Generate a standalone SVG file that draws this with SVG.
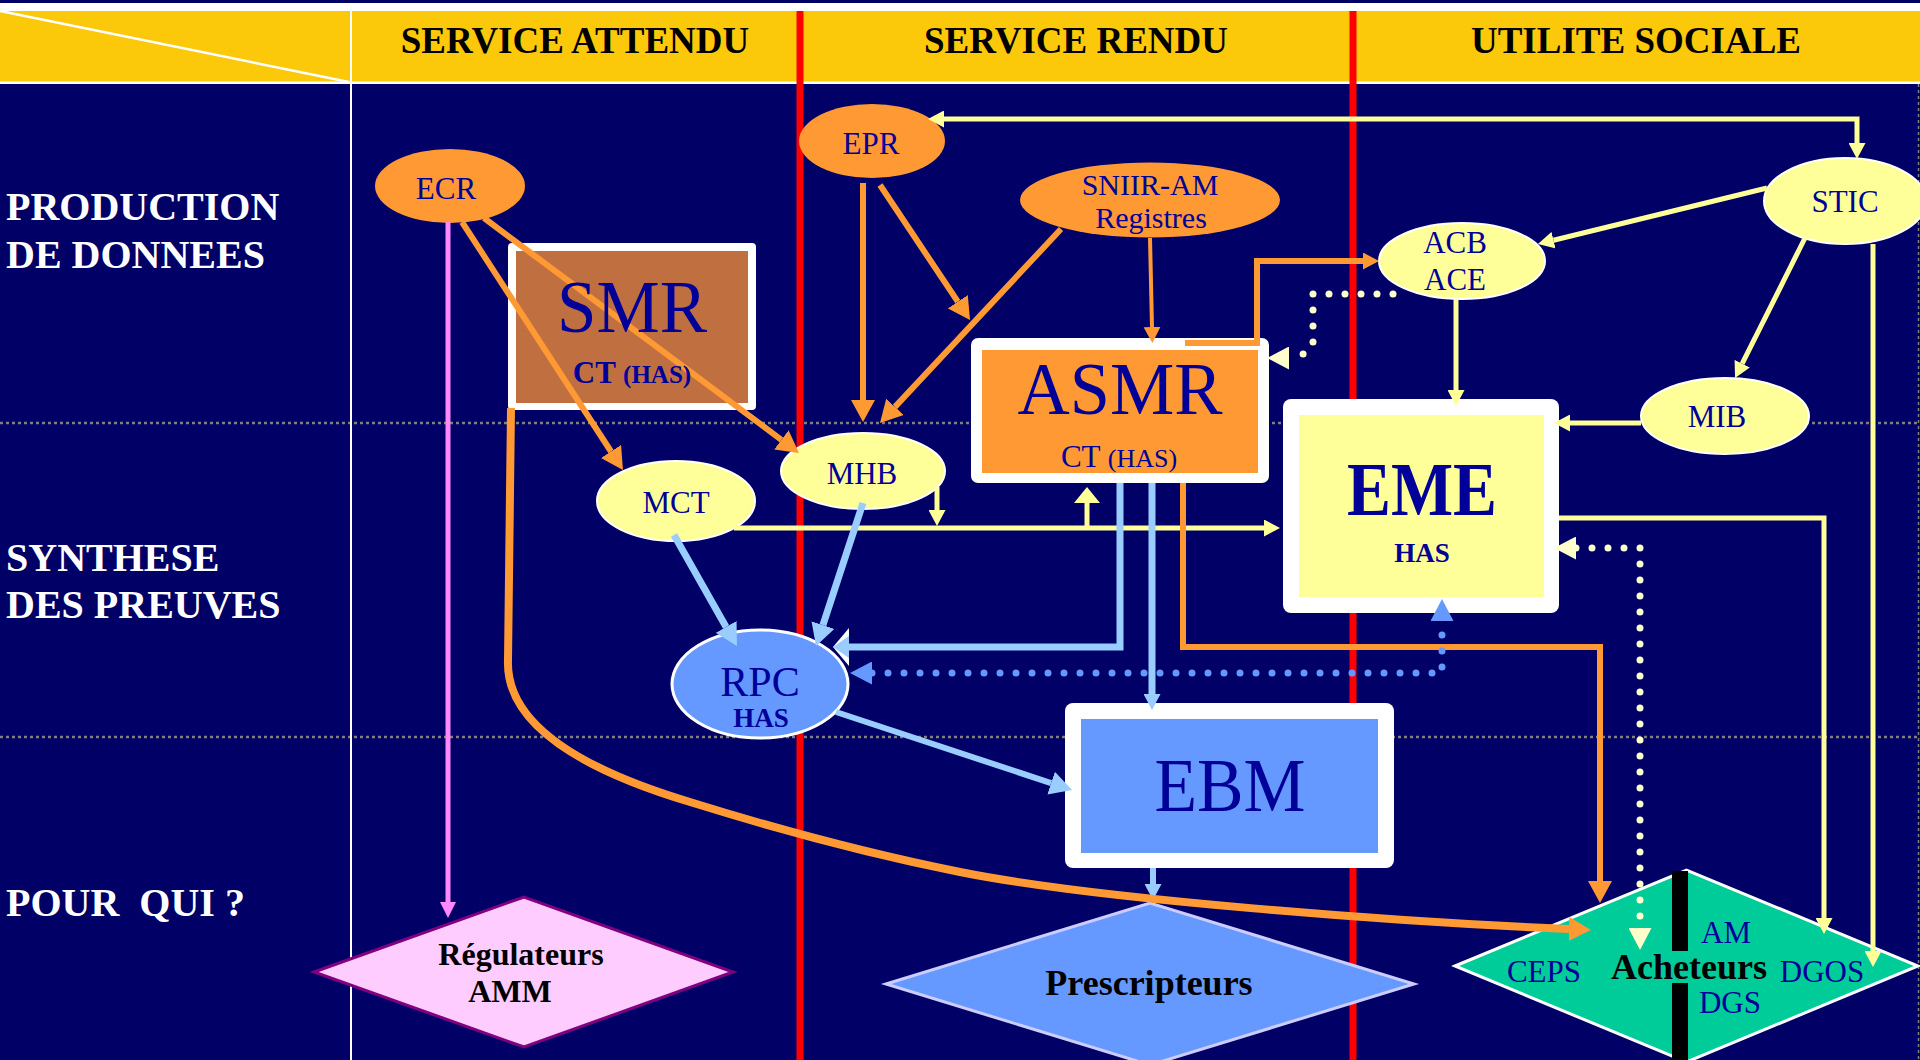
<svg xmlns="http://www.w3.org/2000/svg" width="1920" height="1060" viewBox="0 0 1920 1060">
  <defs>
    <style>
      .hdr{font-family:"Liberation Serif","Times New Roman",serif;font-weight:bold;font-size:37px;fill:#000;text-anchor:middle}
      .row{font-family:"Liberation Serif","Times New Roman",serif;font-weight:bold;font-size:40px;fill:#fff;white-space:pre}
      .lbl{font-family:"Liberation Serif","Times New Roman",serif;font-size:31px;fill:#000099;text-anchor:middle}
      .blk{fill:#000;font-weight:bold}
      .b{font-weight:bold}
      .grid{stroke:#808080;stroke-width:2.5;stroke-dasharray:3 3;fill:none}
      .red{stroke:#FF0000;stroke-width:7}
      .or{stroke:#FF9933;fill:none;stroke-width:6}
      .ye{stroke:#FFFF99;fill:none;stroke-width:5}
      .lb{stroke:#99CCFF;fill:none;stroke-width:7}
      .pk{stroke:#FF88FF;fill:none;stroke-width:5}
      .dot{fill:none;stroke-width:7;stroke-linecap:round;stroke-dasharray:0 16}
      .ell-o{fill:#FF9933}
      .ell-y{fill:#FFFF99;stroke:#FFFFFF;stroke-width:2}
      .frame{fill:#FFFFFF}
    </style>
    <!-- arrowheads: base sits on the path end, tip points forward -->
    <marker id="a-or" markerUnits="userSpaceOnUse" markerWidth="22" markerHeight="24" refX="0" refY="12" orient="auto"><path d="M0,0 L22,12 L0,24 z" fill="#FF9933"/></marker>
    <marker id="a-or-s" markerUnits="userSpaceOnUse" markerWidth="16" markerHeight="17" refX="0" refY="8.5" orient="auto"><path d="M0,0 L16,8.5 L0,17 z" fill="#FF9933"/></marker>
    <marker id="a-ye-s" markerUnits="userSpaceOnUse" markerWidth="16" markerHeight="17" refX="0" refY="8.5" orient="auto-start-reverse"><path d="M0,0 L16,8.5 L0,17 z" fill="#FFFF99"/></marker>
    <marker id="a-ye-w" markerUnits="userSpaceOnUse" markerWidth="16" markerHeight="26" refX="0" refY="13" orient="auto"><path d="M0,0 L16,13 L0,26 z" fill="#FFFF99"/></marker>
    <marker id="a-lb" markerUnits="userSpaceOnUse" markerWidth="22" markerHeight="24" refX="0" refY="12" orient="auto"><path d="M0,0 L22,12 L0,24 z" fill="#99CCFF"/></marker>
    <marker id="a-lb-s" markerUnits="userSpaceOnUse" markerWidth="16" markerHeight="17" refX="0" refY="8.5" orient="auto"><path d="M0,0 L16,8.5 L0,17 z" fill="#99CCFF"/></marker>
    <marker id="a-lb-w" markerUnits="userSpaceOnUse" markerWidth="16" markerHeight="38" refX="0" refY="19" orient="auto"><path d="M0,0 L16,19 L0,38 z" fill="#FFFFFF"/><path d="M0,8 L16,19 L0,30 z" fill="#99CCFF"/></marker>
    <marker id="a-bl" markerUnits="userSpaceOnUse" markerWidth="22" markerHeight="23" refX="0" refY="11.5" orient="auto-start-reverse"><path d="M0,0 L22,11.5 L0,23 z" fill="#6699FF"/></marker>
    <marker id="a-py" markerUnits="userSpaceOnUse" markerWidth="22" markerHeight="23" refX="0" refY="11.5" orient="auto-start-reverse"><path d="M0,0 L22,11.5 L0,23 z" fill="#FFFFCC"/></marker>
    <marker id="a-pk" markerUnits="userSpaceOnUse" markerWidth="16" markerHeight="16" refX="0" refY="8" orient="auto"><path d="M0,0 L16,8 L0,16 z" fill="#FF88FF"/></marker>
  </defs>

  <!-- background -->
  <rect x="0" y="0" width="1920" height="1060" fill="#000066"/>

  <!-- column header band -->
  <g id="header">
    <rect x="0" y="3" width="1920" height="8" fill="#FFFFFF"/>
    <rect x="0" y="11" width="1920" height="71" fill="#FCC80A"/>
    <rect x="0" y="81.5" width="1920" height="2.5" fill="#FFFFFF"/>
    <line x1="0" y1="11" x2="349" y2="82" stroke="#FFFFFF" stroke-width="2.5"/>
    <text class="hdr" x="575" y="53">SERVICE ATTENDU</text>
    <text class="hdr" x="1076" y="53">SERVICE RENDU</text>
    <text class="hdr" x="1636" y="53">UTILITE SOCIALE</text>
  </g>

  <!-- table grid -->
  <g id="grid">
    <line class="grid" x1="0" y1="423" x2="1920" y2="423"/>
    <line class="grid" x1="0" y1="737" x2="1920" y2="737"/>
    <line class="grid" x1="1918.5" y1="84" x2="1918.5" y2="1060" style="stroke-width:1.5"/>
    <line x1="351" y1="11" x2="351" y2="1060" stroke="#FFFFFF" stroke-width="2"/>
    <line class="red" x1="800" y1="11" x2="800" y2="1060"/>
    <line class="red" x1="1353" y1="11" x2="1353" y2="1060"/>
  </g>

  <!-- row titles -->
  <g id="rows">
    <text class="row" x="6" y="220">PRODUCTION</text>
    <text class="row" x="6" y="268">DE DONNEES</text>
    <text class="row" x="6" y="571">SYNTHESE</text>
    <text class="row" x="6" y="618">DES PREUVES</text>
    <text class="row" x="6" y="916">POUR  QUI ?</text>
  </g>

  <!-- nodes -->
  <g id="ecr">
    <ellipse class="ell-o" cx="450" cy="186" rx="75" ry="37"/>
    <text class="lbl" x="446" y="199">ECR</text>
  </g>
  <g id="epr">
    <ellipse class="ell-o" cx="872" cy="141" rx="73" ry="37"/>
    <text class="lbl" x="871" y="154">EPR</text>
  </g>
  <g id="sniir">
    <ellipse class="ell-o" cx="1150" cy="200" rx="130" ry="37.5"/>
    <text class="lbl" x="1150" y="195" style="font-size:30px">SNIIR-AM</text>
    <text class="lbl" x="1151" y="228" style="font-size:30px">Registres</text>
  </g>
  <g id="stic">
    <ellipse class="ell-y" cx="1845" cy="201" rx="81" ry="43"/>
    <text class="lbl" x="1845" y="212">STIC</text>
  </g>
  <g id="acb">
    <ellipse class="ell-y" cx="1462" cy="261" rx="83" ry="38"/>
    <text class="lbl" x="1455" y="253">ACB</text>
    <text class="lbl" x="1455" y="290">ACE</text>
  </g>
  <g id="mib">
    <ellipse class="ell-y" cx="1725" cy="416" rx="84" ry="38"/>
    <text class="lbl" x="1717" y="427">MIB</text>
  </g>
  <g id="mhb">
    <ellipse class="ell-y" cx="863" cy="471" rx="82" ry="38"/>
    <text class="lbl" x="862" y="484">MHB</text>
  </g>
  <g id="mct">
    <ellipse class="ell-y" cx="676" cy="501" rx="79" ry="40"/>
    <text class="lbl" x="676" y="513">MCT</text>
  </g>
  <g id="rpc">
    <ellipse cx="760" cy="684" rx="88" ry="54" fill="#6699FF" stroke="#FFFFFF" stroke-width="3"/>
    <text class="lbl" x="760" y="696" style="font-size:42px">RPC</text>
    <text class="lbl b" x="761" y="727" style="font-size:27px">HAS</text>
  </g>
  <g id="smr">
    <rect class="frame" x="508" y="243" width="248" height="167" rx="4"/>
    <rect x="516" y="251" width="232" height="152" fill="#C07040"/>
  </g>
  <g id="asmr">
    <rect class="frame" x="971" y="338" width="298" height="145" rx="7"/>
    <rect x="982" y="350" width="276" height="123" fill="#FF9933"/>
    <text class="lbl" x="1120" y="414" style="font-size:74px" textLength="205" lengthAdjust="spacingAndGlyphs">ASMR</text>
    <text class="lbl" x="1119" y="467"><tspan style="font-size:31px">CT </tspan><tspan style="font-size:26px">(HAS)</tspan></text>
  </g>
  <g id="eme">
    <rect class="frame" x="1283" y="399" width="276" height="214" rx="8"/>
    <rect x="1299" y="415" width="245" height="182" fill="#FFFF99"/>
    <text class="lbl b" x="1422" y="515" style="font-size:76px" textLength="150" lengthAdjust="spacingAndGlyphs">EME</text>
    <text class="lbl b" x="1422" y="562" style="font-size:27px">HAS</text>
  </g>
  <g id="ebm">
    <rect class="frame" x="1065" y="703" width="329" height="165" rx="8"/>
    <rect x="1081" y="719" width="297" height="134" fill="#6699FF"/>
    <text class="lbl" x="1230" y="811" style="font-size:76px" textLength="151" lengthAdjust="spacingAndGlyphs">EBM</text>
  </g>
  <g id="regulateurs">
    <polygon points="314,972 524,897 733,972 524,1047" fill="#FFCCFF" stroke="#800080" stroke-width="3"/>
    <text class="lbl blk" x="521" y="965" style="font-size:32px">Régulateurs</text>
    <text class="lbl blk" x="510" y="1002" style="font-size:32px">AMM</text>
  </g>
  <g id="prescripteurs">
    <polygon points="886,984 1150,903 1414,984 1150,1065" fill="#6699FF" stroke="#CCCCFF" stroke-width="3"/>
    <text class="lbl blk" x="1149" y="995" style="font-size:36px">Prescripteurs</text>
  </g>
  <g id="acheteurs">
    <polygon points="1455,966 1686.5,870 1918,966 1686.5,1062" fill="#00CC99" stroke="#FFFFFF" stroke-width="3"/>
    <rect x="1672" y="871" width="16" height="80" fill="#000000"/>
    <rect x="1672" y="983" width="16" height="80" fill="#000000"/>
    <text class="lbl" x="1544" y="982">CEPS</text>
    <text class="lbl blk" x="1689" y="979" style="font-size:36px">Acheteurs</text>
    <text class="lbl" x="1726" y="943">AM</text>
    <text class="lbl" x="1730" y="1013">DGS</text>
    <text class="lbl" x="1822" y="982">DGOS</text>
  </g>

  <!-- connectors -->
  <g id="connectors">
    <!-- yellow -->
    <path class="ye" d="M944 119 H1857 V143" marker-start="url(#a-ye-s)" marker-end="url(#a-ye-s)"/>
    <path class="ye" d="M1767 188 L1553.5 240.2" marker-end="url(#a-ye-s)"/>
    <path class="ye" d="M1805 238 L1742.2 363.7" marker-end="url(#a-ye-s)"/>
    <path class="ye" d="M1873 244 V951" marker-end="url(#a-ye-s)"/>
    <path class="ye" d="M1456 299 V390" marker-end="url(#a-ye-s)"/>
    <path class="ye" d="M1641 423 H1570" marker-end="url(#a-ye-s)"/>
    <path class="ye" d="M1559 518 H1824 V918" marker-end="url(#a-ye-s)"/>
    <path class="ye" d="M734 528 H1264" marker-end="url(#a-ye-s)"/>
    <path class="ye" d="M1087 528 V503" marker-end="url(#a-ye-w)"/>
    <path class="ye" d="M937 487 V510" marker-end="url(#a-ye-s)"/>
    <!-- light blue -->
    <path class="lb" d="M674 535 L726.1 626.9" marker-end="url(#a-lb)"/>
    <path class="lb" d="M863 503 L822.9 625.1" marker-end="url(#a-lb)"/>
    <path class="lb" d="M1120 483 V647 H849" marker-end="url(#a-lb-w)"/>
    <path class="lb" d="M1152 483 V694" marker-end="url(#a-lb-s)"/>
    <path class="lb" d="M836 712 L1051.1 783.1" style="stroke-width:6" marker-end="url(#a-lb)"/>
    <path class="lb" d="M1153 868 V884" style="stroke-width:6" marker-end="url(#a-lb-s)"/>
    <!-- pink -->
    <path class="pk" d="M448 222 V902" marker-end="url(#a-pk)"/>
    <!-- orange -->
    <path class="or" d="M462 222 L611 451.5" marker-end="url(#a-or)"/>
    <path class="or" d="M484 218 L781.4 439.8" marker-end="url(#a-or)"/>
    <path class="or" d="M863 183 V400" marker-end="url(#a-or)"/>
    <path class="or" d="M880 185 L957.8 301.7" marker-end="url(#a-or)"/>
    <path class="or" d="M1061 229 L895 406.9" marker-end="url(#a-or)"/>
    <path class="or" d="M1150 238 L1152 327" style="stroke-width:4" marker-end="url(#a-or-s)"/>
    <path class="or" d="M1185 343 H1257 V261 H1363" marker-end="url(#a-or-s)"/>
    <path class="or" d="M1183 483 V647 H1600 V881" marker-end="url(#a-or)"/>
    <path class="or" d="M511 408 L508 660 C506 710 550 760 690 802 C780 830 880 856 960 872 C1100 900 1400 922 1569 929" style="stroke-width:8" marker-end="url(#a-or)"/>
    <!-- dotted feedback links -->
    <path class="dot" stroke="#FFFFCC" d="M1393 294 H1313 V344 L1299 358 H1289" marker-end="url(#a-py)"/>
    <path class="dot" stroke="#FFFFCC" d="M1576 548 H1640 V928" marker-start="url(#a-py)" marker-end="url(#a-py)"/>
    <path class="dot" stroke="#6699FF" d="M872 673 H1442 V621" marker-start="url(#a-bl)" marker-end="url(#a-bl)"/>
  </g>

  <!-- SMR label sits above the lines crossing its box -->
  <g id="smr-label">
    <text class="lbl" x="632" y="332" style="font-size:73px" textLength="150" lengthAdjust="spacingAndGlyphs">SMR</text>
    <text class="lbl b" x="632" y="383"><tspan style="font-size:31px">CT </tspan><tspan style="font-size:25px">(HAS)</tspan></text>
  </g>
</svg>
